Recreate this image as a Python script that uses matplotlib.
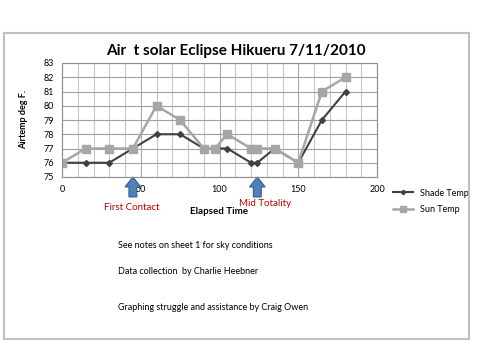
import matplotlib.pyplot as plt
from matplotlib.patches import FancyArrow, Rectangle

plt.rcParams['font.family'] = ['Lato', 'DejaVu Sans']

# elapsed time (minutes) and temperatures (deg F)
tiempo = [0, 15, 30, 45, 60, 75, 90, 97, 105, 120, 124, 135, 150, 165, 180]
shade = [76, 76, 76, 77, 78, 78, 77, 77, 77, 76, 76, 77, 76, 79, 81]
sun = [76, 77, 77, 77, 80, 79, 77, 77, 78, 77, 77, 77, 76, 81, 82]

eventos = ['First Contact', 'Mid Totality']
eventos_x = [45, 124]

notas = ['See notes on sheet 1 for sky conditions',
         'Data collection  by Charlie Heebner',
         'Graphing struggle and assistance by Craig Owen']

fig = plt.figure(figsize=(4.8, 3.6), dpi=100)
fig.patches.append(Rectangle((4/480, 1-339/360), 465/480, 306/360, transform=fig.transFigure,
                             fill=False, ec='#c0c0c0', lw=1.5))

ax = fig.add_axes([62/480, 1-177/360, 315/480, 114/360])
ax.set_xlim(0, 200)
ax.set_ylim(75, 83)
ax.set_xticks(range(0, 201, 50))
ax.set_xticks(range(0, 201, 10), minor=True)
ax.set_yticks(range(75, 84))
ax.grid(which='minor', axis='x', color='#c8c8c8', lw=0.8)
ax.grid(which='major', axis='x', color='#a8a8a8', lw=0.8)
ax.grid(which='major', axis='y', color='#a0a0a0', lw=0.8)
ax.set_axisbelow(True)
for s in ax.spines.values():
    s.set_color('#8c8c8c')
    s.set_linewidth(0.8)
ax.tick_params(which='both', length=0, labelsize=6.5, pad=6)

ax.plot(tiempo, shade, color='#404040', lw=1.5, marker='D', ms=3, label='Shade Temp')
ax.plot(tiempo, sun, color='#a6a6a6', lw=1.8, marker='s', ms=6, label='Sun Temp')

fig.text(236/480, 1-51/360, 'Air  t solar Eclipse Hikueru 7/11/2010', fontsize=11,
         fontweight='bold', ha='center', va='center')
ax.set_ylabel('Airtemp deg F.', fontsize=6.5, fontweight='bold', labelpad=11)

# arrows for the eclipse events
for ex in eventos_x:
    ax.add_patch(FancyArrow(ex, 73.6, 0, 0.7, width=5, head_width=10, head_length=0.7,
                            length_includes_head=False, fc='#4f81bd', ec='#385d8a',
                            lw=0.8, clip_on=False))

fig.text(132/480, 1-208/360, eventos[0], color='#c00000', fontsize=7, ha='center', va='center')
fig.text(265/480, 1-203/360, eventos[1], color='#c00000', fontsize=7, ha='center', va='center')
fig.text(219/480, 1-211/360, 'Elapsed Time', fontsize=7, fontweight='bold', ha='center', va='center')

ax.legend(loc='upper left', bbox_to_anchor=(1.04, -0.07), frameon=False, fontsize=6.5,
          handlelength=2.2, labelspacing=0.85, borderaxespad=0, markerscale=0.75)

ys = [246, 271, 307]
for t, y in zip(notas, ys):
    fig.text(118/480, 1-y/360, t, fontsize=6.5, va='center')

fig.savefig('out.png', dpi=100)
